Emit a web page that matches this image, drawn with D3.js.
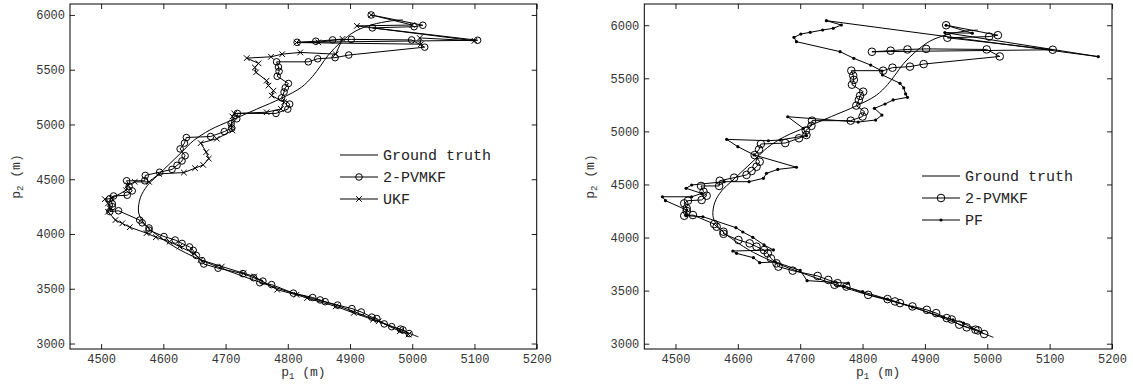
<!DOCTYPE html>
<html>
<head>
<meta charset="utf-8">
<script src="https://cdn.jsdelivr.net/npm/d3@7"></script>
<style>
body { margin: 0; background: #fff; }
svg text { font-family: "Liberation Mono", "Courier New", monospace; }
</style>
</head>
<body>
<svg width="1133" height="385"></svg>
<script>
// positions in metres, [p1, p2]
const xTicks = [4500, 4600, 4700, 4800, 4900, 5000, 5100, 5200];
const yTicks = [3000, 3500, 4000, 4500, 5000, 5500, 6000];

const truth = [
	[5010, 3060], [4950, 3195], [4880, 3345], [4800, 3475], [4730, 3610],
	[4670, 3740], [4625, 3860], [4595, 3970], [4575, 4060], [4564, 4140],
	[4560, 4210], [4563, 4330], [4574, 4440], [4590, 4530], [4610, 4640],
	[4630, 4750], [4648, 4850], [4675, 4950], [4710, 5040], [4750, 5140],
	[4790, 5240], [4822, 5340], [4840, 5440], [4852, 5530], [4866, 5640],
	[4885, 5750], [4908, 5850], [4935, 5910], [4965, 5945], [4985, 5955]
];

const pvmkf = [
	[4934, 6000], [5017, 5906], [5003, 5893], [4936, 5882], [5105, 5769],
	[4815, 5750], [4845, 5760], [4872, 5772], [4902, 5777], [4999, 5772],
	[5020, 5706], [4898, 5634], [4876, 5610], [4848, 5600], [4833, 5572],
	[4782, 5572], [4785, 5525], [4786, 5485], [4783, 5440], [4801, 5374],
	[4796, 5335], [4794, 5296], [4790, 5243], [4803, 5186], [4800, 5140],
	[4781, 5101], [4719, 5101], [4718, 5052], [4709, 5008], [4710, 4966],
	[4698, 4935], [4676, 4890], [4637, 4881], [4634, 4830], [4627, 4777],
	[4635, 4714], [4630, 4667], [4622, 4627], [4614, 4590], [4594, 4564],
	[4571, 4535], [4570, 4486], [4541, 4486], [4545, 4432], [4550, 4394],
	[4542, 4354], [4520, 4347], [4514, 4322], [4518, 4275], [4518, 4250],
	[4514, 4205], [4528, 4212], [4562, 4127], [4566, 4102], [4577, 4055],
	[4577, 4035], [4601, 3977], [4619, 3945], [4630, 3914], [4642, 3882],
	[4648, 3851], [4653, 3804], [4662, 3757], [4665, 3726], [4688, 3688],
	[4728, 3638], [4745, 3601], [4760, 3570], [4755, 3555], [4774, 3538],
	[4809, 3460], [4840, 3420], [4852, 3398], [4860, 3382], [4880, 3351],
	[4903, 3319], [4918, 3288], [4935, 3241], [4943, 3228], [4955, 3179],
	[4967, 3154], [4981, 3132], [4985, 3125], [4995, 3091]
];

const ukf = [
	[4934, 6000], [5000, 5908], [4911, 5900], [5100, 5764], [5012, 5790],
	[5014, 5733], [4814, 5748], [4849, 5750], [4888, 5782], [4877, 5642],
	[4820, 5658], [4791, 5642], [4773, 5618], [4734, 5606], [4753, 5558],
	[4747, 5521], [4749, 5476], [4766, 5400], [4769, 5355], [4777, 5309],
	[4774, 5264], [4794, 5203], [4789, 5142], [4766, 5112], [4714, 5100],
	[4711, 5073], [4709, 4991], [4711, 4945], [4686, 4870], [4660, 4830],
	[4669, 4748], [4673, 4688], [4664, 4631], [4651, 4601], [4633, 4561],
	[4593, 4549], [4577, 4476], [4554, 4476], [4543, 4445], [4540, 4400],
	[4517, 4324], [4506, 4318], [4511, 4279], [4514, 4233], [4511, 4203],
	[4523, 4127], [4534, 4097], [4546, 4062], [4573, 4008], [4588, 3971],
	[4610, 3930], [4626, 3885], [4649, 3824], [4660, 3764], [4694, 3703],
	[4729, 3642], [4746, 3612], [4783, 3491], [4814, 3445], [4831, 3415],
	[4877, 3339], [4906, 3279], [4937, 3218], [4946, 3203], [4980, 3112],
	[4994, 3082]
];

const pf = [
	[4934, 6000], [4976, 5925], [4932, 5931], [5178, 5704], [4742, 6043],
	[4766, 6002], [4753, 5971], [4736, 5955], [4716, 5933], [4701, 5917],
	[4690, 5886], [4694, 5845], [4764, 5751], [4786, 5688], [4813, 5625],
	[4831, 5569], [4832, 5531], [4860, 5453], [4866, 5409], [4869, 5353],
	[4872, 5321], [4849, 5296], [4836, 5258], [4819, 5217], [4831, 5154],
	[4821, 5107], [4793, 5088], [4680, 5138], [4705, 5029], [4710, 4960],
	[4668, 4919], [4649, 4912], [4582, 4925], [4600, 4856], [4626, 4778],
	[4694, 4662], [4664, 4642], [4646, 4605], [4641, 4558], [4618, 4526],
	[4578, 4526], [4526, 4495], [4517, 4464], [4542, 4416], [4526, 4384],
	[4479, 4384], [4484, 4347], [4518, 4259], [4517, 4206], [4544, 4196],
	[4597, 4093], [4608, 4052], [4624, 4002], [4642, 3930], [4657, 3883],
	[4592, 3873], [4598, 3851], [4625, 3810], [4635, 3763], [4660, 3770],
	[4700, 3690], [4711, 3594], [4777, 3570], [4770, 3540], [4800, 3490],
	[4840, 3420], [4880, 3345], [4930, 3250], [4945, 3225], [4962, 3195],
	[4975, 3150], [4990, 3110]
];

const svg = d3.select("svg");
const plotTop = 4, plotBottom = 349;

const markers = {
	circle: (g, r) => g.append("circle").attr("r", r).attr("fill", "none").attr("stroke", "#000"),
	cross: (g, r) => g.append("path").attr("d", `M${-r},${-r}L${r},${r}M${-r},${r}L${r},${-r}`)
		.attr("fill", "none").attr("stroke", "#000"),
	dot: (g, r) => g.append("circle").attr("r", r).attr("fill", "#000")
};

function drawPanel(cfg) {
	const x = d3.scaleLinear().domain([4450, 5200]).range([cfg.left, cfg.right]);
	const y = d3.scaleLinear().domain(cfg.yDomain).range([plotBottom, plotTop]);
	const g = svg.append("g");

	// ticks inward on all four sides, labels only bottom/left
	const axes = [
		{ axis: d3.axisBottom(x).tickValues(xTicks), t: `translate(0,${plotBottom})`, labels: true },
		{ axis: d3.axisTop(x).tickValues(xTicks), t: `translate(0,${plotTop})`, labels: false },
		{ axis: d3.axisLeft(y).tickValues(yTicks), t: `translate(${cfg.left},0)`, labels: true },
		{ axis: d3.axisRight(y).tickValues(yTicks), t: `translate(${cfg.right},0)`, labels: false }
	];

	axes.forEach(a => {
		a.axis.tickSizeInner(-5).tickSizeOuter(0).tickPadding(5)
			.tickFormat(a.labels ? d3.format("d") : "");
		const ag = g.append("g").attr("transform", a.t).call(a.axis);
		ag.attr("font-family", null);
		ag.select(".domain").remove();
		ag.selectAll("line").attr("stroke", "#222");
		ag.selectAll("text").attr("font-size", 12).attr("fill", "#333");
	});

	g.append("rect")
		.attr("x", cfg.left).attr("y", plotTop)
		.attr("width", cfg.right - cfg.left).attr("height", plotBottom - plotTop)
		.attr("fill", "none").attr("stroke", "#000");

	const line = d3.line().x(d => x(d[0])).y(d => y(d[1]));
	const smooth = d3.line().x(d => x(d[0])).y(d => y(d[1])).curve(d3.curveCatmullRom);

	g.append("path").datum(truth).attr("d", smooth)
		.attr("fill", "none").attr("stroke", "#000").attr("stroke-width", 1);

	cfg.series.forEach(s => {
		g.append("path").datum(s.data).attr("d", line)
			.attr("fill", "none").attr("stroke", "#000").attr("stroke-width", 1);
		s.data.forEach(d => {
			const m = g.append("g").attr("transform", `translate(${x(d[0])},${y(d[1])})`);
			markers[s.marker](m, s.r);
		});
	});

	// axis labels
	const xl = g.append("text")
		.attr("x", (cfg.left + cfg.right) / 2).attr("y", 376)
		.attr("text-anchor", "middle").attr("font-size", 13).attr("fill", "#333");
	xl.append("tspan").text("p");
	xl.append("tspan").attr("font-size", 9).attr("dy", 3).text("1");
	xl.append("tspan").attr("dy", -3).text(" (m)");

	const yl = g.append("text")
		.attr("transform", `translate(${cfg.left - 50},${(plotTop + plotBottom) / 2}) rotate(-90)`)
		.attr("text-anchor", "middle").attr("font-size", 13).attr("fill", "#333");
	yl.append("tspan").text("p");
	yl.append("tspan").attr("font-size", 9).attr("dy", 3).text("2");
	yl.append("tspan").attr("dy", -3).text(" (m)");

	// legend
	const lg = g.append("g").attr("transform", `translate(${cfg.legend[0]},${cfg.legend[1]})`);
	const entries = [{ name: "Ground truth" }].concat(cfg.series);
	entries.forEach((e, i) => {
		const row = lg.append("g").attr("transform", `translate(0,${i * 22})`);
		row.append("line").attr("x1", 0).attr("x2", 38).attr("stroke", "#000");
		if (e.marker) markers[e.marker](row.append("g").attr("transform", "translate(19,0)"), e.r);
		row.append("text").attr("x", 43).attr("dy", "0.35em")
			.attr("font-size", 15).attr("fill", "#222").text(e.name);
	});
}

drawPanel({
	left: 70, right: 536.7, yDomain: [2950, 6100], legend: [340, 155],
	series: [
		{ name: "2-PVMKF", data: pvmkf, marker: "circle", r: 3.3 },
		{ name: "UKF", data: ukf, marker: "cross", r: 2.8 }
	]
});

drawPanel({
	left: 644.3, right: 1112, yDomain: [2950, 6200], legend: [922, 176],
	series: [
		{ name: "2-PVMKF", data: pvmkf, marker: "circle", r: 3.8 },
		{ name: "PF", data: pf, marker: "dot", r: 1.6 }
	]
});
</script>
</body>
</html>
